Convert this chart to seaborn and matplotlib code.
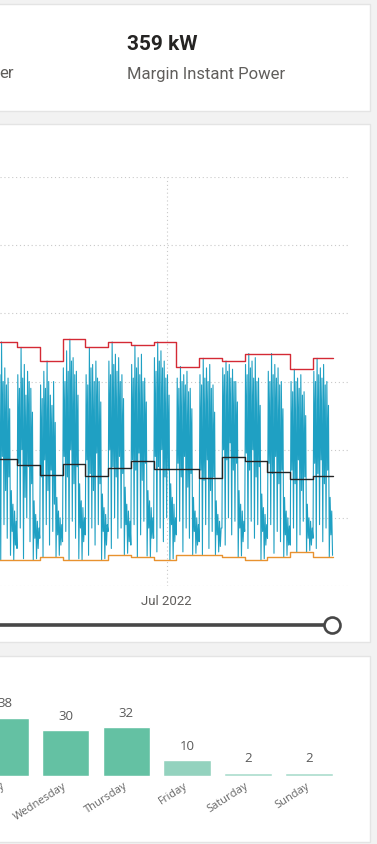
'''
power_dashboard recreates the instant power dashboard crop (card, time series, weekday bars)
'''

import numpy as np
import pandas as pd
import matplotlib.pyplot as plt
import matplotlib.dates as mdates
from matplotlib.patches import Rectangle
import seaborn as sns


# DATA
margin_value = '359 kW'
margin_label = 'Margin Instant Power'
left_label_tail = 'er'

# 6-hourly instant power (kW) from 2022-05-09, one row per week (Mon..Sun, 4 points a day)
power_kw = [
    60, 300, 170, 285, 75, 330, 150, 310, 38, 358, 190, 300, 90, 320, 140, 295, 70, 305, 160, 260, 45, 140, 80, 120, 38, 110, 60, 95,
    55, 310, 180, 290, 85, 350, 200, 305, 40, 325, 130, 280, 100, 315, 175, 300, 65, 290, 150, 255, 38, 125, 70, 105, 40, 95, 55, 85,
    70, 295, 160, 275, 42, 315, 185, 290, 90, 330, 140, 300, 60, 280, 170, 265, 80, 300, 120, 240, 42, 130, 75, 110, 45, 100, 60, 90,
    65, 320, 190, 300, 80, 345, 160, 315, 38, 362, 200, 330, 95, 335, 150, 310, 70, 315, 175, 280, 40, 150, 85, 125, 38, 115, 65, 100,
    75, 310, 185, 295, 45, 350, 165, 320, 85, 325, 140, 300, 60, 330, 195, 305, 90, 300, 150, 270, 38, 135, 80, 115, 40, 105, 60, 90,
    80, 330, 200, 310, 55, 358, 175, 325, 100, 340, 160, 315, 70, 335, 190, 300, 85, 310, 165, 275, 46, 145, 90, 120, 48, 110, 65, 95,
    60, 325, 185, 305, 90, 353, 170, 320, 42, 335, 195, 310, 75, 340, 155, 300, 95, 305, 180, 270, 44, 140, 85, 125, 42, 115, 70, 100,
    70, 335, 190, 315, 50, 358, 175, 330, 85, 345, 200, 320, 65, 330, 160, 305, 100, 310, 170, 280, 38, 150, 90, 130, 40, 120, 65, 100,
    75, 305, 180, 290, 95, 322, 160, 300, 50, 310, 190, 295, 85, 315, 145, 285, 70, 290, 165, 260, 46, 130, 80, 110, 48, 100, 60, 90,
    65, 310, 170, 295, 46, 334, 155, 305, 90, 320, 185, 300, 55, 325, 140, 290, 80, 295, 160, 255, 46, 125, 75, 105, 50, 95, 58, 85,
    85, 320, 200, 310, 60, 330, 185, 315, 100, 325, 210, 305, 75, 318, 170, 300, 95, 300, 180, 270, 42, 140, 85, 120, 44, 110, 65, 95,
    80, 325, 195, 310, 55, 341, 170, 320, 95, 330, 200, 305, 70, 335, 160, 300, 90, 305, 175, 265, 38, 135, 80, 115, 40, 105, 60, 90,
    70, 315, 180, 300, 90, 341, 165, 310, 48, 325, 190, 305, 80, 320, 150, 295, 65, 300, 170, 260, 42, 130, 75, 110, 45, 100, 60, 88,
    60, 300, 170, 285, 85, 318, 150, 300, 50, 305, 185, 290, 75, 310, 140, 280, 95, 285, 160, 250, 50, 120, 70, 100, 52, 95, 60, 85,
    70, 315, 180, 300, 55, 334, 165, 310, 90, 320, 185, 305, 65, 325, 150, 295, 85, 300, 170, 265, 42, 130, 75, 110,
    45,
]
series_start = '2022-05-09'
series_end = '2022-08-21'

# weekly statistics (kW), weeks starting on Monday
weekly_max = [358, 350, 330, 362, 350, 358, 353, 358, 322, 334, 330, 341, 341, 318, 334]
weekly_mean = [186, 178, 163, 179, 162, 173, 183, 172, 172, 159, 189, 183, 167, 157, 162]
weekly_min = [38, 38, 42, 38, 38, 46, 42, 38, 46, 46, 42, 38, 42, 50, 42]

x_tick_date = '2022-07-01'
x_tick_label = 'Jul 2022'

days = ['Tuesday', 'Wednesday', 'Thursday', 'Friday', 'Saturday', 'Sunday']
day_counts = [38, 30, 32, 10, 2, 2]
day_colors = ['#64c1a3', '#64c1a3', '#64c1a3', '#93d2be', '#a9dccc', '#a9dccc']


# FUNCTION
W, H = 377, 845

def fig_box(x0, y0, x1, y1):
    # pixel box (top-left origin) -> figure fraction rect
    return [x0 / W, 1 - y1 / H, (x1 - x0) / W, (y1 - y0) / H]

def addCards(bg):
    for y0, y1 in [(5, 112), (125, 643), (657, 843)]:
        bg.add_patch(Rectangle((-10, y0), 380, y1 - y0, facecolor='white',
                               edgecolor='#e4e4e4', linewidth=1.0))

    bg.text(127, 44, margin_value, fontsize=15, fontweight='bold', color='#252423',
            family='Roboto', ha='left', va='center')
    bg.text(127, 74, margin_label, fontsize=12, color='#605e5c',
            family='Roboto', ha='left', va='center')
    bg.text(-0.5, 74, left_label_tail, fontsize=12, color='#605e5c',
            family='Roboto', ha='left', va='center')

    # range slider under the time series
    bg.plot([-5, 332], [626, 626], color='#474747', linewidth=2.6, solid_capstyle='butt')
    bg.plot([332], [626], marker='o', markersize=11.5, markerfacecolor='white',
            markeredgecolor='#474747', markeredgewidth=1.9)

def addSeries(ax):
    times = pd.date_range(series_start, periods=len(power_kw), freq='6h')
    df = pd.DataFrame({'time': times, 'power': power_kw})

    weeks = list(pd.date_range(series_start, periods=len(weekly_max), freq='7D')) + [pd.Timestamp(series_end)]
    stats = pd.DataFrame({
        'time': weeks,
        'max': weekly_max + weekly_max[-1:],
        'mean': weekly_mean + weekly_mean[-1:],
        'min': weekly_min + weekly_min[-1:],
    })

    sns.lineplot(data=df, x='time', y='power', color='#1fa0c3', linewidth=0.8, ax=ax)
    for col, color in [('max', '#d42a35'), ('mean', '#252525'), ('min', '#e8922f')]:
        sns.lineplot(data=stats, x='time', y=col, color=color, linewidth=1.0,
                     drawstyle='steps-post', ax=ax)

    # x = 17 px is Monday 2022-05-16, 3.253 px per day
    d0 = mdates.date2num(pd.Timestamp('2022-05-16'))
    ax.set_xlim(d0 - 17 / 3.253, d0 + 333 / 3.253)
    ax.set_ylim(0, 600)

    ax.set_yticks(np.arange(0, 601, 100))
    ax.set_xticks([mdates.date2num(pd.Timestamp(x_tick_date))])
    ax.set_xticklabels([x_tick_label])
    ax.grid(True, linestyle=(0, (1, 2.5)), color='#c9c9c9', linewidth=0.8)
    ax.tick_params(axis='x', length=0, pad=6, labelsize=9.5, labelcolor='#605e5c')
    ax.tick_params(axis='y', length=0, labelleft=False)
    for lab in ax.get_xticklabels():
        lab.set_family('Roboto')
    for s in ax.spines.values():
        s.set_visible(False)
    ax.set_xlabel('')
    ax.set_ylabel('')
    ax.patch.set_alpha(0)

def addBars(ax):
    df = pd.DataFrame({'day': days, 'count': day_counts})
    sns.barplot(data=df, x='day', y='count', hue='day', palette=day_colors,
                width=0.783, legend=False, saturation=1, ax=ax)

    for cont in ax.containers:
        ax.bar_label(cont, padding=6, fontsize=9.5, color='#5a5a5a', family='Open Sans')

    ax.set_xlim(-0.0773, 6.123)
    ax.set_ylim(0, 56.9)
    ax.tick_params(axis='x', length=0, pad=6, labelsize=8, labelcolor='#666666')
    ax.tick_params(axis='y', length=0, labelleft=False)
    for lab in ax.get_xticklabels():
        lab.set_rotation(33)
        lab.set_ha('right')
        lab.set_va('center')
        lab.set_rotation_mode('anchor')
        lab.set_family('Open Sans')
    for s in ax.spines.values():
        s.set_visible(False)
    ax.set_xlabel('')
    ax.set_ylabel('')
    ax.patch.set_alpha(0)

def genFigure():
    sns.set_theme(style='white')
    plt.rcParams['font.family'] = ['Open Sans', 'DejaVu Sans']

    fig = plt.figure(figsize=(W / 100, H / 100), dpi=100, facecolor='#f2f2f2')

    bg = fig.add_axes([0, 0, 1, 1])
    bg.set_xlim(0, W)
    bg.set_ylim(H, 0)
    bg.axis('off')
    addCards(bg)

    ax_ts = fig.add_axes(fig_box(0, 178, 350, 587))
    addSeries(ax_ts)

    ax_bar = fig.add_axes(fig_box(0, 690, W, 776.7))
    addBars(ax_bar)

    fig.savefig('out.png', dpi=100, facecolor=fig.get_facecolor())
    plt.close(fig)


# MAIN
if __name__ == '__main__':
    genFigure()
